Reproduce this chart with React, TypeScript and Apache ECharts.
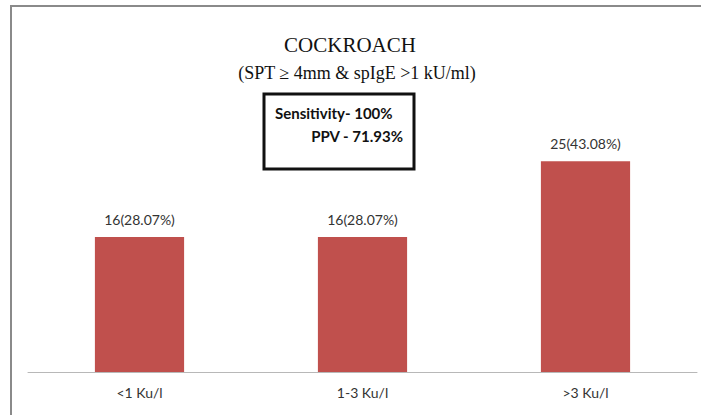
import React, { useEffect, useRef } from "react";
import * as echarts from "echarts";

const categories = ["<1 Ku/l", "1-3 Ku/l", ">3 Ku/l"];
const counts = [16, 16, 25];
const percents = ["28.07", "28.07", "43.08"];
const titleText = "COCKROACH";
const subtitleText = "(SPT \u2265 4mm & spIgE >1 kU/ml)";
const boxLines = ["Sensitivity- 100%", "PPV - 71.93%"];

export default function App() {
  const ref = useRef<HTMLDivElement>(null);
  useEffect(() => {
    document.body.style.margin = "0";
    const chart = echarts.init(ref.current!, null, { renderer: "svg" });
    chart.setOption({
      animation: false,
      backgroundColor: "#ffffff",
      grid: { left: 28, right: 4, top: 119, bottom: 43 },
      xAxis: {
        type: "category",
        data: categories,
        axisLine: { show: true, lineStyle: { color: "#b8b8b8", width: 1 } },
        axisTick: { show: false },
        axisLabel: {
          color: "#333333",
          fontFamily: "Lato",
          fontSize: 14,
          margin: 13,
        },
      },
      yAxis: {
        type: "value",
        min: 0,
        max: 30,
        show: false,
        splitLine: { show: false },
      },
      series: [
        {
          type: "bar",
          data: counts,
          barWidth: "40%",
          itemStyle: { color: "#C0504D" },
          label: {
            show: true,
            position: "top",
            distance: 11,
            color: "#333333",
            fontFamily: "Lato",
            fontSize: 14,
            formatter: (p: any) => `${counts[p.dataIndex]}(${percents[p.dataIndex]}%)`,
          },
        },
      ],
      graphic: [
        {
          type: "rect",
          shape: { x: 11, y: 6, width: 720, height: 440 },
          style: { fill: "none", stroke: "#8a8a8a", lineWidth: 2 },
          silent: true,
        },
        {
          type: "text",
          x: 350,
          y: 45,
          style: {
            text: titleText,
            fill: "#111111",
            font: "21px 'Liberation Serif'",
            align: "center",
            verticalAlign: "middle",
          },
        },
        {
          type: "text",
          x: 357,
          y: 73,
          style: {
            text: subtitleText,
            fill: "#111111",
            font: "18px 'Liberation Serif'",
            align: "center",
            verticalAlign: "middle",
          },
        },
        {
          type: "rect",
          shape: { x: 264, y: 94, width: 150, height: 75 },
          style: { fill: "#ffffff", stroke: "#111111", lineWidth: 3 },
        },
        {
          type: "text",
          x: 275,
          y: 113,
          style: {
            text: boxLines[0],
            fill: "#111111",
            font: "bold 15px Lato",
            align: "left",
            verticalAlign: "middle",
          },
        },
        {
          type: "text",
          x: 403,
          y: 136,
          style: {
            text: boxLines[1],
            fill: "#111111",
            font: "bold 15px Lato",
            align: "right",
            verticalAlign: "middle",
          },
        },
      ],
    });
    return () => chart.dispose();
  }, []);
  return <div ref={ref} style={{ width: 701, height: 415 }} />;
}
